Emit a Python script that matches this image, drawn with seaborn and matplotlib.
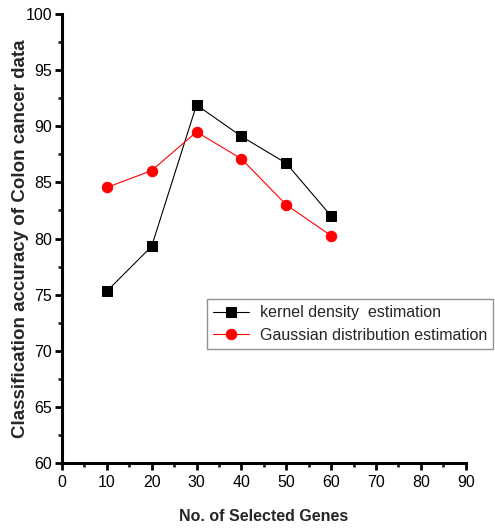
import matplotlib
matplotlib.use("Agg")
import matplotlib.pyplot as plt
from matplotlib.ticker import MultipleLocator
import seaborn as sns
import pandas as pd

genes = [10, 20, 30, 40, 50, 60]
kernel_acc = [75.3, 79.3, 91.9, 89.1, 86.7, 82.0]
gauss_acc = [84.55, 86.05, 89.5, 87.1, 83.0, 80.25]
kernel_label = "kernel density  estimation"
gauss_label = "Gaussian distribution estimation"

sns.set_style("ticks")
plt.rcParams['font.family'] = ['Liberation Sans', 'DejaVu Sans']

fig = plt.figure(figsize=(4.95, 5.28), dpi=100)
ax = fig.add_axes([0.125, 0.123, 0.816, 0.8505])

df_k = pd.DataFrame({"x": genes, "y": kernel_acc})
df_g = pd.DataFrame({"x": genes, "y": gauss_acc})
sns.lineplot(data=df_k, x="x", y="y", ax=ax, color="black", lw=0.8,
             marker="s", markersize=6.5, markeredgecolor="black",
             label=kernel_label)
sns.lineplot(data=df_g, x="x", y="y", ax=ax, color="red", lw=0.8,
             marker="o", markersize=7.5, markeredgecolor="red",
             label=gauss_label)

ax.set_xlim(0, 90)
ax.set_ylim(60, 100)
ax.xaxis.set_major_locator(MultipleLocator(10))
ax.xaxis.set_minor_locator(MultipleLocator(5))
ax.yaxis.set_major_locator(MultipleLocator(5))
ax.yaxis.set_minor_locator(MultipleLocator(2.5))
for s in ["top", "right"]:
    ax.spines[s].set_visible(False)
for s in ["left", "bottom"]:
    ax.spines[s].set_linewidth(2.2)
    ax.spines[s].set_color("black")
ax.tick_params(which="major", direction="out", length=5, width=2, labelsize=11.5,
               colors="black")
ax.tick_params(axis="y", which="major", pad=2)
ax.tick_params(which="minor", direction="out", length=3, width=2)
ax.set_xlabel("No. of Selected Genes", fontsize=11.5, fontweight="bold")
ax.xaxis.set_label_coords(0.5, -0.102)
ax.set_ylabel("Classification accuracy of Colon cancer data", fontsize=13.5,
              fontweight="bold")
ax.yaxis.set_label_coords(-0.082, 0.5)

leg = ax.legend(loc="upper left", bbox_to_anchor=(207/495, 1 - 299/528),
                bbox_transform=fig.transFigure, fontsize=11.5, frameon=True,
                fancybox=False, edgecolor="#777777", borderpad=0.4,
                labelspacing=0.45, handlelength=2.2, handletextpad=0.7,
                borderaxespad=0)
leg.get_frame().set_linewidth(1.0)

fig.savefig("out.png", dpi=100)
